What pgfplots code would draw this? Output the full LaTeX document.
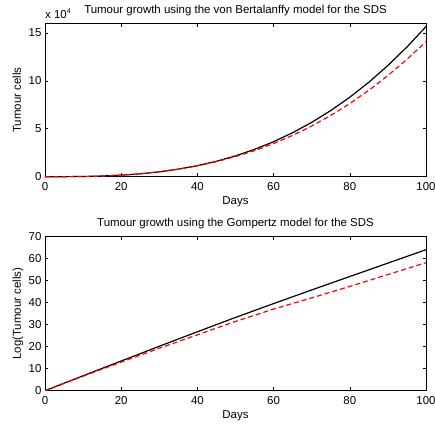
\documentclass[border=0pt]{standalone}
\usepackage{pgfplots}
\pgfplotsset{compat=1.18}
\usepackage{fontspec}
\setmainfont{Liberation Sans}

\newcommand{\matfont}{\fontsize{11.5}{13}\selectfont}

\pgfplotsset{
  mataxis/.style={
    scale only axis,
    width=381bp,
    xmin=0, xmax=100,
    xtick={0,20,40,60,80,100},
    tick align=inside,
    major tick length=3.3bp,
    axis line style={black, line width=0.8bp},
    every tick/.style={black, line width=0.6bp},
    font=\matfont,
    /pgf/number format/assume math mode=true,
    every x tick label/.style={anchor=base, yshift=-14bp, font=\matfont},
    every y tick label/.style={font=\matfont},
    every axis title/.style={at={(axis description cs:0.5,1)}, anchor=base, yshift=10bp, font=\matfont},
    every axis x label/.style={at={(axis description cs:0.5,0)}, anchor=base, yshift=-28bp, font=\matfont},
    every axis y label/.style={at={(axis description cs:-0.063,0.5)}, anchor=base, rotate=90, font=\matfont},
  },
  solidline/.style={black, line width=1.2bp, no marks},
  dashline/.style={red, line width=1.2bp, no marks, dash pattern=on 5bp off 3bp},
}

\begin{document}
\begin{tikzpicture}
% top panel: von Bertalanffy
\begin{axis}[mataxis,
  at={(45bp,-176.7bp)}, anchor=south west,
  height=153.4bp,
  ymin=0, ymax=160000,
  ytick={0,50000,100000,150000},
  scaled y ticks=base 10:-4,
  ytick scale label code/.code={},
  title={Tumour growth using the von Bertalanffy model for the SDS},
  xlabel={Days},
  ylabel={Tumour cells},
  clip=false,
]
\addplot[solidline] coordinates {
(0,0) (5,30) (10,220) (15,700) (20,1600) (25,3000) (30,5100) (35,7900)
(40,11500) (45,16100) (50,21700) (55,28500) (60,36500) (65,45900)
(70,56700) (75,69000) (80,82900) (85,98500) (90,116000) (95,135300) (100,156600)};
\addplot[dashline] coordinates {
(0,0) (5,30) (10,220) (15,700) (20,1600) (25,3000) (30,5100) (35,7800)
(40,11300) (45,15700) (50,21000) (55,27200) (60,34600) (65,43100)
(70,52800) (75,63900) (80,76300) (85,90100) (90,105500) (95,122400) (100,140900)};
\node[anchor=base west, inner sep=0pt, yshift=5bp, font=\matfont]
  at (rel axis cs:0,1) {x 10\raisebox{5bp}{\fontsize{7}{8}\selectfont 4}};
\end{axis}

% bottom panel: Gompertz
\begin{axis}[mataxis,
  at={(45bp,-390.7bp)}, anchor=south west,
  height=154bp,
  ymin=0, ymax=70,
  ytick={0,10,20,30,40,50,60,70},
  title={Tumour growth using the Gompertz model for the SDS},
  xlabel={Days},
  ylabel={Log(Tumour cells)},
]
\addplot[solidline] coordinates {
(0,0) (10,6.8) (20,13.5) (30,20.2) (40,26.8) (50,33.3) (60,39.6)
(70,45.8) (80,51.9) (90,58.0) (100,64.1)};
\addplot[dashline] coordinates {
(0,0) (10,6.6) (20,13.0) (30,19.3) (40,25.4) (50,31.5) (60,37.1)
(70,42.2) (80,47.4) (90,52.8) (100,58.2)};
\end{axis}

\pgfresetboundingbox
\path[use as bounding box] (0,0) rectangle (435bp,-429bp);
\end{tikzpicture}
\end{document}
